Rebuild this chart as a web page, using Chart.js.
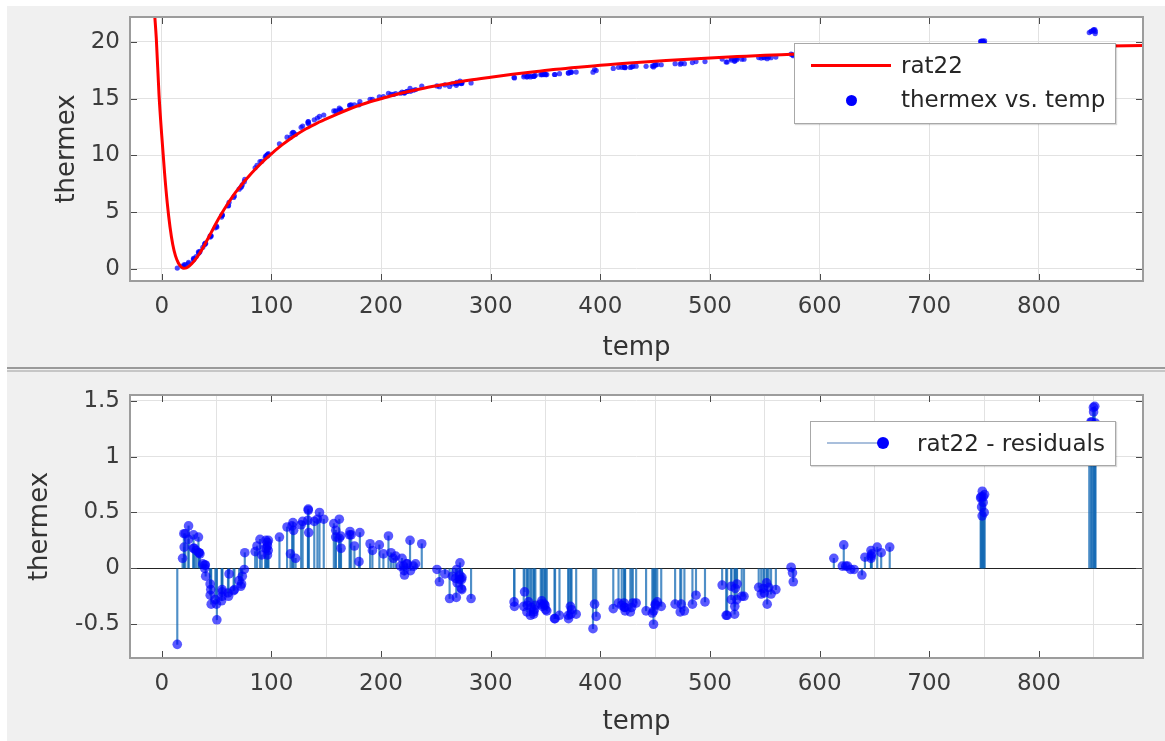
<!DOCTYPE html>
<html lang="en">
<head>
    <meta charset="UTF-8">
    <title>rat22 fit - thermex vs. temp</title>
    <script src="https://cdn.jsdelivr.net/npm/chart.js"></script>
    <style>
        body {
            margin: 0;
            padding: 0;
            background: #ffffff;
            font-family: 'DejaVu Sans', sans-serif;
        }
        .page {
            position: relative;
            width: 1165px;
            height: 741px;
            overflow: hidden;
        }
        .panel-bg {
            position: absolute;
            left: 7px;
            top: 6px;
            right: 0;
            bottom: 0;
            background: #f0f0f0;
        }
        .sep1 { position: absolute; left: 7px; right: 0; top: 367px; height: 2px; background: #9a9a9a; }
        .sep2 { position: absolute; left: 7px; right: 0; top: 370px; height: 2px; background: #c6c6c6; }
        canvas { position: absolute; left: 0; }
        #topChart { top: 0; }
        #bottomChart { top: 373px; }
        .legend {
            position: absolute;
            background: #fff;
            border: 1px solid #a8a8a8;
            box-shadow: 1px 1px 1px rgba(0,0,0,0.15);
            font-size: 23px;
            color: #262626;
        }
        .legend .txt { position: absolute; white-space: nowrap; line-height: 26px; }
        .legend .ln { position: absolute; }
        .legend .dot { position: absolute; border-radius: 50%; background: #0000ff; }
    </style>
</head>
<body>
<div class="page">
    <div class="panel-bg"></div>
    <canvas id="topChart" width="1165" height="365"></canvas>
    <div class="sep1"></div>
    <div class="sep2"></div>
    <canvas id="bottomChart" width="1165" height="368"></canvas>

    <div class="legend" style="left:794px; top:43px; width:320px; height:79px;">
        <div class="ln" style="left:16px; top:20px; width:80px; height:3px; background:#ff0000;"></div>
        <div class="txt" style="left:106px; top:8px;">rat22</div>
        <div class="dot" style="left:51px; top:51px; width:11px; height:11px;"></div>
        <div class="txt" style="left:106px; top:42px;">thermex vs. temp</div>
    </div>
    <div class="legend" style="left:810px; top:421px; width:304px; height:43px;">
        <div class="ln" style="left:16px; top:20px; width:56px; height:2px; background:#a9bfdc;"></div>
        <div class="dot" style="left:66px; top:15px; width:12px; height:12px;"></div>
        <div class="txt" style="left:106px; top:8px;">rat22 - residuals</div>
    </div>
</div>

<script>
// measured data
const temp = [
    24.41, 34.82, 44.09, 45.07, 54.98, 65.51, 70.53, 75.70, 89.57, 91.14, 96.40, 97.19, 114.26, 120.25, 127.08, 133.55, 133.61, 158.67, 172.74, 171.31,
    202.14, 220.55, 221.05, 221.39, 250.99, 268.99, 271.80, 271.97, 321.31, 321.69, 330.14, 333.03, 333.47, 340.77, 345.65, 373.11, 373.79, 411.82, 419.51, 421.59,
    422.02, 422.47, 422.61, 441.75, 447.41, 448.7, 472.89, 476.69, 522.47, 522.62, 524.43, 546.75, 549.53, 575.29, 576.00, 625.55,
    20.15, 28.78, 29.57, 37.41, 39.12, 50.24, 61.38, 66.25, 73.42, 95.52, 107.32, 122.04, 134.03, 163.19, 163.48, 175.70, 179.86, 211.27, 217.78, 219.14,
    262.52, 268.01, 268.62, 336.25, 337.23, 339.33, 427.38, 428.58, 432.68, 528.99, 531.08, 628.34, 253.24, 273.13, 273.66, 282.10, 346.62, 347.19, 348.78, 351.18,
    450.10, 450.35, 451.92, 455.56, 552.22, 553.56, 555.74, 652.59, 656.20,
    14.13, 20.41, 31.30, 33.84, 39.70, 48.83, 54.50, 60.41, 72.77, 75.25, 86.84, 94.88, 96.40, 117.37, 139.08, 147.73, 158.63, 161.84, 192.11, 206.76,
    209.07, 213.32, 226.44, 237.12, 330.90, 358.72, 370.77, 372.72, 396.24, 416.59, 484.02, 495.47, 514.78, 515.65, 519.47, 544.47, 560.11, 620.77,
    18.97, 28.93, 33.91, 40.03, 44.66, 49.87, 55.16, 60.90, 72.08, 85.15, 97.06, 119.63, 133.27, 143.84, 161.91, 180.67, 198.44, 226.86, 229.65, 258.27,
    273.77, 339.15, 350.13, 362.75, 371.03, 393.32, 448.53, 473.78, 511.12, 524.70, 548.75, 551.64, 574.02, 623.86,
    21.46, 24.33, 33.43, 39.22, 44.18, 55.02, 94.33, 96.44, 118.82, 128.48, 141.94, 156.92, 171.65, 190.00, 223.26, 223.88, 231.50, 265.05, 269.44, 271.78,
    273.46, 334.61, 339.79, 349.52, 358.18, 377.98, 394.77, 429.66, 468.22, 487.27, 519.54, 523.03, 612.99, 638.59, 641.36, 622.05, 631.50, 663.97, 646.9, 748.29,
    749.21, 750.14, 647.04, 646.89, 746.9, 748.43, 747.35, 749.27, 647.61, 747.78, 750.51, 851.37, 845.97, 847.54, 849.93, 851.61, 849.75, 850.98, 848.23
];

const thermex = [
    0.591, 1.547, 2.902, 2.894, 4.703, 6.307, 7.03, 7.898, 9.470, 9.484, 10.072, 10.163, 11.615, 12.005, 12.478, 12.982, 12.970, 13.926, 14.452, 14.404,
    15.190, 15.550, 15.528, 15.499, 16.131, 16.438, 16.387, 16.549, 16.872, 16.830, 16.926, 16.907, 16.966, 17.060, 17.122, 17.311, 17.355, 17.668, 17.767, 17.803,
    17.765, 17.768, 17.736, 17.858, 17.877, 17.912, 18.046, 18.085, 18.291, 18.357, 18.426, 18.584, 18.610, 18.870, 18.795, 19.111,
    0.367, 0.796, 0.892, 1.903, 2.150, 3.697, 5.870, 6.421, 7.422, 9.944, 11.023, 11.87, 12.786, 14.067, 13.974, 14.462, 14.464, 15.381, 15.483, 15.59,
    16.075, 16.347, 16.181, 16.915, 17.003, 16.978, 17.756, 17.808, 17.868, 18.481, 18.486, 19.090, 16.062, 16.337, 16.345, 16.388, 17.159, 17.116, 17.164, 17.123,
    17.979, 17.974, 18.007, 17.993, 18.523, 18.669, 18.617, 19.371, 19.330,
    0.080, 0.248, 1.089, 1.418, 2.278, 3.624, 4.574, 5.556, 7.267, 7.695, 9.136, 9.959, 9.957, 11.600, 13.138, 13.564, 13.871, 13.994, 14.947, 15.473,
    15.379, 15.455, 15.908, 16.114, 17.071, 17.135, 17.282, 17.368, 17.483, 17.764, 18.185, 18.271, 18.236, 18.237, 18.523, 18.627, 18.665, 19.086,
    0.214, 0.943, 1.429, 2.241, 2.951, 3.782, 4.757, 5.602, 7.169, 8.920, 10.055, 12.035, 12.861, 13.436, 14.167, 14.755, 15.168, 15.651, 15.746, 16.216,
    16.445, 16.965, 17.121, 17.206, 17.250, 17.339, 17.793, 18.123, 18.49, 18.566, 18.645, 18.706, 18.924, 19.1,
    0.375, 0.471, 1.504, 2.204, 2.813, 4.765, 9.835, 10.040, 11.946, 12.596, 13.303, 13.922, 14.440, 14.951, 15.627, 15.639, 15.814, 16.315, 16.334, 16.430,
    16.423, 17.024, 17.009, 17.165, 17.134, 17.349, 17.576, 17.848, 18.090, 18.276, 18.404, 18.519, 19.133, 19.074, 19.239, 19.280, 19.101, 19.398, 19.252, 19.89,
    20.007, 19.929, 19.268, 19.324, 20.049, 20.107, 20.062, 20.065, 19.286, 19.972, 20.088, 20.743, 20.83, 20.935, 21.035, 20.93, 21.074, 21.085, 20.935
];

// residuals of the rat22 fit, same order as temp
const residual = [
    0.38, 0.13, -0.14, -0.32, -0.25, -0.20, -0.11, 0.14, 0.26, 0.12, 0.23, 0.25, 0.37, 0.34, 0.39, 0.53, 0.52, 0.34, 0.30, 0.30,
    0.13, 0.02, -0.02, -0.06, -0.01, -0.01, -0.10, 0.05, -0.30, -0.34, -0.34, -0.39, -0.33, -0.33, -0.32, -0.41, -0.37, -0.36, -0.33, -0.31,
    -0.35, -0.35, -0.38, -0.38, -0.40, -0.38, -0.39, -0.38, -0.41, -0.34, -0.28, -0.23, -0.22, -0.04, -0.12, 0.02,
    0.31, 0.18, 0.18, 0.04, 0.00, -0.46, -0.05, -0.19, -0.07, 0.18, 0.28, 0.09, 0.32, 0.29, 0.18, 0.20, 0.06, 0.09, 0.02, 0.09,
    -0.27, -0.09, -0.26, -0.42, -0.35, -0.39, -0.39, -0.35, -0.31, -0.25, -0.25, -0.01, -0.12, -0.18, -0.19, -0.27, -0.29, -0.34, -0.32, -0.38,
    -0.32, -0.33, -0.30, -0.34, -0.32, -0.17, -0.23, 0.19, 0.14,
    -0.68, 0.19, 0.16, 0.14, 0.03, -0.28, -0.29, -0.22, -0.14, -0.01, 0.20, 0.25, 0.12, 0.13, 0.42, 0.44, 0.28, 0.27, 0.16, 0.29,
    0.14, 0.11, 0.25, 0.22, -0.21, -0.45, -0.42, -0.34, -0.43, -0.31, -0.32, -0.30, -0.42, -0.42, -0.16, -0.17, -0.19, 0.02,
    0.09, 0.30, 0.14, -0.07, -0.19, -0.32, -0.21, -0.25, -0.16, 0.15, 0.16, 0.41, 0.43, 0.50, 0.44, 0.32, 0.21, -0.02, 0.02, -0.05,
    -0.08, -0.41, -0.37, -0.42, -0.45, -0.54, -0.50, -0.32, -0.15, -0.14, -0.18, -0.13, 0.01, 0.02,
    0.31, 0.26, 0.28, 0.03, -0.24, -0.19, 0.18, 0.20, 0.38, 0.42, 0.44, 0.40, 0.33, 0.22, 0.04, 0.04, 0.04, -0.07, -0.13, -0.06,
    -0.10, -0.30, -0.37, -0.33, -0.45, -0.41, -0.32, -0.31, -0.32, -0.24, -0.28, -0.18, 0.09, -0.06, 0.10, 0.21, -0.01, 0.19, 0.09, 0.47,
    0.59, 0.50, 0.11, 0.16, 0.63, 0.69, 0.64, 0.64, 0.13, 0.55, 0.66, 1.11, 1.21, 1.31, 1.40, 1.30, 1.44, 1.45, 1.31
];

// rat22 curve
const fitTemp = [
    -6.5, -5, -2.5, 0, 2.5, 5, 7.5, 10, 12.5, 15, 17.5, 20, 22.5, 25, 27.5, 30, 32.5, 35, 40, 45,
    50, 55, 60, 65, 70, 75, 80, 85, 90, 95, 100, 110, 120, 130, 140, 150, 160, 170, 180, 190,
    200, 220, 240, 260, 280, 300, 320, 340, 360, 380, 400, 420, 440, 460, 480, 500, 525, 550, 575, 600,
    650, 700, 750, 800, 850, 895
];
const fitThermex = [
    22.4, 20.3, 15.3, 11.7, 8.5, 5.8, 3.7, 2.15, 1.15, 0.55, 0.2, 0.06, 0.09, 0.25, 0.48, 0.76, 1.08, 1.45, 2.3, 3.2,
    4.12, 4.95, 5.72, 6.45, 7.08, 7.68, 8.24, 8.76, 9.25, 9.72, 10.15, 10.95, 11.65, 12.27, 12.77, 13.22, 13.65, 14.05, 14.41, 14.73,
    15.0, 15.52, 15.95, 16.3, 16.63, 16.9, 17.15, 17.38, 17.6, 17.78, 17.94, 18.1, 18.23, 18.36, 18.48, 18.59, 18.71, 18.83, 18.91, 19.0,
    19.17, 19.3, 19.43, 19.54, 19.63, 19.7
];

const xTicks = [0, 100, 200, 300, 400, 500, 600, 700, 800];
const topYTicks = [0, 5, 10, 15, 20];
const bottomYTicks = [-0.5, 0, 0.5, 1, 1.5];

Chart.defaults.font.family = "'DejaVu Sans', sans-serif";
Chart.defaults.font.size = 23;
Chart.defaults.color = '#3c3c3c';

// white plot area, box round it and inward tick marks, MATLAB style
const framePlugin = {
    id: 'frame',
    beforeDraw(chart) {
        const { ctx, chartArea: a } = chart;
        ctx.save();
        ctx.fillStyle = '#ffffff';
        ctx.fillRect(a.left, a.top, a.width, a.height);
        ctx.restore();
    },
    afterDraw(chart) {
        const { ctx, chartArea: a, scales } = chart;
        ctx.save();
        ctx.strokeStyle = '#4a4a4a';
        ctx.lineWidth = 1;
        ctx.beginPath();
        scales.x.ticks.forEach(t => {
            const px = Math.round(scales.x.getPixelForValue(t.value)) + 0.5;
            ctx.moveTo(px, a.bottom); ctx.lineTo(px, a.bottom - 7);
            ctx.moveTo(px, a.top); ctx.lineTo(px, a.top + 7);
        });
        scales.y.ticks.forEach(t => {
            const py = Math.round(scales.y.getPixelForValue(t.value)) + 0.5;
            ctx.moveTo(a.left, py); ctx.lineTo(a.left + 7, py);
            ctx.moveTo(a.right, py); ctx.lineTo(a.right - 7, py);
        });
        ctx.stroke();
        ctx.strokeStyle = '#9c9c9c';
        ctx.lineWidth = 2;
        ctx.strokeRect(a.left, a.top, a.width, a.height);
        ctx.restore();
    }
};

function axes(yMin, yMax, yTicks, yTitlePad, xTitlePad, canvasH, plotBottom, zeroLine) {
    return {
        x: {
            type: 'linear',
            min: -29,
            max: 895,
            offset: false,
            afterBuildTicks: s => { s.ticks = xTicks.map(v => ({ value: v })); },
            afterFit: s => { s.height = canvasH - plotBottom; s.paddingLeft = 0; s.paddingRight = 0; },
            grid: { color: '#e2e2e2', lineWidth: 1, drawTicks: false },
            border: { display: false },
            ticks: { padding: 12, maxRotation: 0, callback: v => String(v) },
            title: { display: true, text: 'temp', font: { size: 26, lineHeight: 1 }, color: '#333', padding: { top: 0, bottom: xTitlePad } }
        },
        y: {
            type: 'linear',
            min: yMin,
            max: yMax,
            afterBuildTicks: s => { s.ticks = yTicks.map(v => ({ value: v })); },
            afterFit: s => { s.width = 130; s.paddingTop = 0; s.paddingBottom = 0; },
            grid: {
                drawTicks: false,
                lineWidth: 1,
                color: c => (zeroLine && c.tick && c.tick.value === 0) ? '#222' : '#e2e2e2'
            },
            border: { display: false },
            ticks: { padding: 10, callback: v => String(v) },
            title: { display: true, text: 'thermex', font: { size: 26, lineHeight: 1 }, color: '#333', padding: { top: yTitlePad, bottom: 0 } }
        }
    };
}

new Chart(document.getElementById('topChart'), {
    type: 'scatter',
    data: {
        datasets: [
            {
                type: 'line',
                label: 'rat22',
                data: fitTemp.map((t, i) => ({ x: t, y: fitThermex[i] })),
                borderColor: '#ff0000',
                borderWidth: 3,
                pointRadius: 0,
                cubicInterpolationMode: 'monotone',
                fill: false
            },
            {
                label: 'thermex vs. temp',
                data: temp.map((t, i) => ({ x: t, y: thermex[i] })),
                pointRadius: 2.6,
                pointBorderWidth: 0,
                backgroundColor: 'rgba(0, 0, 255, 0.7)'
            }
        ]
    },
    options: {
        responsive: false,
        animation: false,
        layout: { padding: { left: 0, right: 22, top: 17, bottom: 0 } },
        plugins: { legend: { display: false }, tooltip: { enabled: false } },
        scales: axes(-1.06, 22.2, topYTicks, 54, 4, 365, 281, false)
    },
    plugins: [framePlugin]
});

new Chart(document.getElementById('bottomChart'), {
    type: 'scatter',
    data: {
        datasets: [
            {
                label: 'rat22 - residuals',
                data: temp.map((t, i) => ({ x: t, y: residual[i] })),
                pointRadius: 4.8,
                pointBorderWidth: 0,
                backgroundColor: 'rgba(0, 0, 255, 0.65)'
            },
            {
                type: 'bar',
                label: 'stems',
                data: temp.map((t, i) => ({ x: t, y: residual[i] })),
                barThickness: 1.5,
                backgroundColor: 'rgba(20, 105, 180, 0.75)',
                borderWidth: 0
            }
        ]
    },
    options: {
        responsive: false,
        animation: false,
        layout: { padding: { left: 0, right: 22, top: 22, bottom: 0 } },
        plugins: { legend: { display: false }, tooltip: { enabled: false } },
        scales: axes(-0.802, 1.551, bottomYTicks, 27, 6, 368, 285, true)
    },
    plugins: [framePlugin]
});
</script>
</body>
</html>
